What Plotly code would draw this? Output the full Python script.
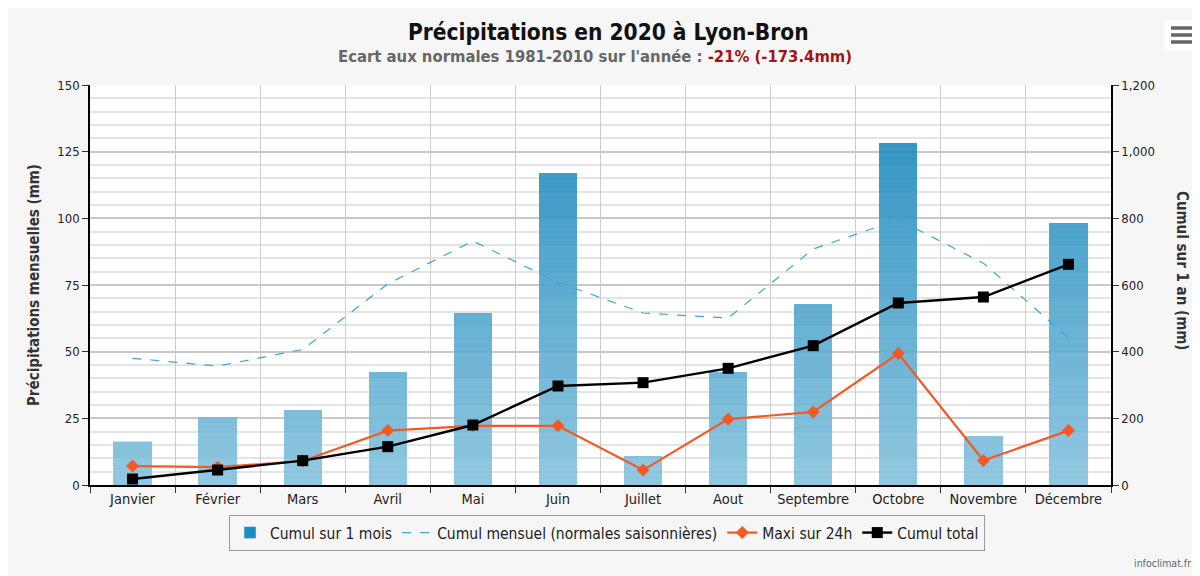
import numpy
import plotly.graph_objects as go

# donnees (mm)
mois = ["Janvier", "Février", "Mars", "Avril", "Mai", "Juin", "Juillet",
        "Aout", "Septembre", "Octobre", "Novembre", "Décembre"]
cumul_mois = [16.5, 25.5, 28, 42.4, 64.5, 117, 10.9, 42.4, 67.9, 128.2, 18.4, 98.2]
normales = [47.5, 44.6, 50.8, 75.4, 91.5, 76, 64.5, 62.6, 88.5, 99.5, 83.2, 55.2]
maxi_24h = [7.1, 6.7, 9.0, 20.4, 22.2, 22.2, 5.6, 24.7, 27.4, 49.3, 9.2, 20.4]
cumul_total = [18, 45, 73, 115, 180, 297, 307, 350, 418, 546, 564, 662]

# la page a une marge de 8px : on decale la figure d'autant
OFF = 8
W, H = 1200 - OFF, 576 - OFF
L, R, T, B = 90, 1111, 85, 485   # zone de trace, en pixels de la page


def px_x(x):
	return (x - L) / (R - L)


def px_y(y):
	return (B - y) / (B - T)


def mix(c1, c2, t):
	c = [round(a + (b - a) * t) for a, b in zip(c1, c2)]
	return "rgb({},{},{})".format(*c)


fig = go.Figure()

# barres en bandes de 10 mm pour imiter le degrade vertical
bas = (132, 193, 221)
haut = (30, 138, 190)
vals = numpy.array(cumul_mois)
for lo in range(0, 150, 10):
	seg = numpy.clip(vals - lo, 0, 10)
	fig.add_trace(go.Bar(x=mois, y=seg, width=0.45,
		marker=dict(color=mix(bas, haut, min(lo / 125, 1)), line=dict(width=0)),
		opacity=0.9, name="Cumul sur 1 mois", legendgroup="m",
		showlegend=False, hoverinfo="skip"))
fig.add_trace(go.Bar(x=[mois[0]], y=[0], width=0.45, name="Cumul sur 1 mois",
	marker=dict(color="#1d8cc0"), legendgroup="m", hoverinfo="skip"))

fig.add_trace(go.Scatter(x=mois, y=normales, mode="lines",
	name="Cumul mensuel (normales saisonnières)",
	line=dict(color="#3ea5d4", width=1.2, dash="dash")))
fig.add_trace(go.Scatter(x=mois, y=maxi_24h, mode="lines+markers",
	name="Maxi sur 24h",
	line=dict(color="#f15a24", width=2.2),
	marker=dict(symbol="diamond", size=10, color="#f15a24")))
fig.add_trace(go.Scatter(x=mois, y=cumul_total, mode="lines+markers",
	name="Cumul total", yaxis="y2",
	line=dict(color="#000000", width=2.4),
	marker=dict(symbol="square", size=11, color="#000000")))

police = "DejaVu Sans Condensed, DejaVu Sans, sans-serif"

fig.update_layout(
	width=W, height=H,
	margin=dict(l=L - OFF, r=W - (R - OFF), t=T - OFF, b=H - (B - OFF)),
	paper_bgcolor="#f6f6f6", plot_bgcolor="#ffffff",
	barmode="stack", bargap=0.55,
	font=dict(family=police, size=12, color="#333333"),
	showlegend=True,
	legend=dict(orientation="h", x=px_x(607), xanchor="center", y=px_y(515), yanchor="top",
		bgcolor="#f6f6f6", bordercolor="#9a9a9a", borderwidth=1,
		font=dict(size=15.5, color="#222222"), traceorder="normal",
		itemwidth=30),
	xaxis=dict(tickson="boundaries", showgrid=True, gridcolor="#cccccc", gridwidth=1,
		showline=True, linecolor="#000000", linewidth=1.5,
		ticks="outside", ticklen=6, tickcolor="#333333",
		tickfont=dict(size=14.5, color="#222222"), range=[-0.5, 11.5]),
	yaxis=dict(range=[0, 150], dtick=25, showgrid=True, gridcolor="#c8c8c8", gridwidth=1.5,
		minor=dict(dtick=5, showgrid=True, gridcolor="#e4e4e4", gridwidth=1.5),
		showline=True, linecolor="#000000", linewidth=1.5,
		ticks="outside", ticklen=6, tickcolor="#333333",
		tickfont=dict(size=13, color="#222222"), zeroline=False,
		title=dict(text="<b>Précipitations mensuelles (mm)</b>", standoff=14,
			font=dict(size=15, color="#333333"))),
	yaxis2=dict(range=[0, 1200], dtick=200, overlaying="y", side="right",
		showgrid=False, tickformat=",", zeroline=False,
		showline=True, linecolor="#000000", linewidth=1.5,
		ticks="outside", ticklen=6, tickcolor="#333333",
		tickfont=dict(size=13, color="#222222")),
)

fig.add_annotation(text="<b>Précipitations en 2020 à Lyon-Bron</b>",
	xref="paper", yref="paper", x=px_x(608), y=px_y(32), showarrow=False,
	font=dict(size=22.5, color="#111111"), xanchor="center", yanchor="middle")
fig.add_annotation(
	text="<b><span style='color:#666666'>Ecart aux normales 1981-2010 sur l'année : </span>"
	"<span style='color:#a31515'>-21% (-173.4mm)</span></b>",
	xref="paper", yref="paper", x=px_x(595), y=px_y(56), showarrow=False,
	font=dict(size=16.5), xanchor="center", yanchor="middle")
fig.add_annotation(text="<b>Cumul sur 1 an (mm)</b>", textangle=90,
	xref="paper", yref="paper", x=px_x(1182), y=px_y(270), showarrow=False,
	font=dict(size=15, color="#333333"), xanchor="center", yanchor="middle")
fig.add_annotation(text="infoclimat.fr",
	xref="paper", yref="paper", x=px_x(1162), y=px_y(563), showarrow=False,
	font=dict(size=10.5, color="#666666"), xanchor="center", yanchor="middle")

# bouton menu
fig.add_shape(type="rect", xref="paper", yref="paper",
	x0=px_x(1164), x1=px_x(1199), y0=px_y(20), y1=px_y(50),
	fillcolor="#ffffff", line=dict(width=0), layer="below")
for yy in (28, 35, 42):
	fig.add_shape(type="line", xref="paper", yref="paper",
		x0=px_x(1171), x1=px_x(1195), y0=px_y(yy), y1=px_y(yy),
		line=dict(color="#666666", width=3.5))

fig.write_html("out.html")
